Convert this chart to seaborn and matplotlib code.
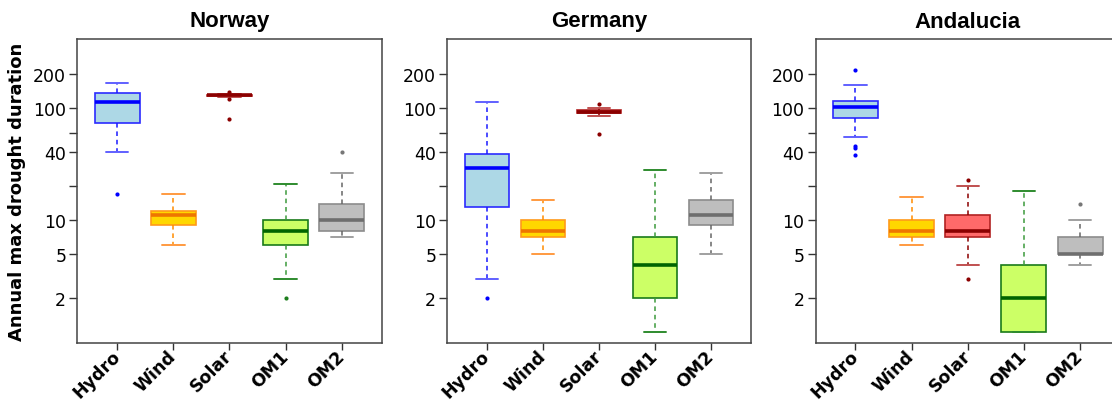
import numpy as np
import pandas as pd
import matplotlib
matplotlib.use("Agg")
import matplotlib.pyplot as plt
from matplotlib.ticker import NullLocator, FixedLocator, FixedFormatter
import seaborn as sns

sns.set_style("white")
plt.rcParams.update({
    "text.color": "black",
    "axes.labelcolor": "black",
    "xtick.color": "black",
    "ytick.color": "black",
})

categories = ["Hydro", "Wind", "Solar", "OM1", "OM2"]
regions = ["Norway", "Germany", "Andalucia"]

# --- box statistics (days) ---
norway_lo = [40, 6, 124.3, 3, 7]
norway_q1 = [72.6, 9, 127, 6, 8]
norway_med = [113, 11, 128.9, 8, 10]
norway_q3 = [134, 12, 130, 10, 14]
norway_hi = [166, 16.9, 133.5, 21, 26]
norway_fliers = [[17], [], [79, 118.8, 138], [2], [40]]

germany_lo = [3, 5, 84.6, 1, 5]
germany_q1 = [13, 7, 89, 2, 9]
germany_med = [29, 8, 92.5, 4, 11]
germany_q3 = [38.8, 10, 96, 7, 15]
germany_hi = [112, 15, 100, 28, 26]
germany_fliers = [[2], [], [58.9, 109], [], []]

andalucia_lo = [55, 6, 4, 1, 4]
andalucia_q1 = [81, 7, 7, 1, 5]
andalucia_med = [101.6, 8, 8, 2, 5]
andalucia_q3 = [115, 10, 11, 4, 7]
andalucia_hi = [158, 16, 20, 18, 10]
andalucia_fliers = [[37.7, 44, 45.7, 217], [], [3, 22.5], [], [14]]

fills = ["#ADD8E6", "#FFD700", "#FF6A6A", "#CCFF66", "#BEBEBE"]
edges = ["#2B2BFF", "#FF9A1A", "#B22222", "#1A7A1A", "#8C8C8C"]
medcols = ["#0000FF", "#EE7600", "#8B0000", "#006400", "#6E6E6E"]
whiskcols = ["#1A1AFF", "#FF8C00", "#8B0000", "#3C9A3C", "#666666"]
capcols = ["#6060FF", "#FF9A40", "#C05050", "#2E8B2E", "#A0A0A0"]
fliercols = ["#0000FF", "#FF8C00", "#8B0000", "#1E7E1E", "#777777"]

stats = {
    "Norway": (norway_lo, norway_q1, norway_med, norway_q3, norway_hi, norway_fliers),
    "Germany": (germany_lo, germany_q1, germany_med, germany_q3, germany_hi, germany_fliers),
    "Andalucia": (andalucia_lo, andalucia_q1, andalucia_med, andalucia_q3, andalucia_hi, andalucia_fliers),
}

# expand the summary statistics into samples that reproduce them exactly
rows = []
for reg in regions:
    lo, q1, med, q3, hi, fl = stats[reg]
    for i, cat in enumerate(categories):
        vals = list(fl[i]) + [lo[i]] + [q1[i]] * 20 + [med[i]] * 20 + [q3[i]] * 20 + [hi[i]]
        for v in vals:
            rows.append((reg, cat, v))
df = pd.DataFrame(rows, columns=["region", "source", "duration"])

fig = plt.figure(figsize=(11.12, 4.10), dpi=100)
W, H = 1112.0, 410.0
lefts = [77.3, 447.3, 815.5]
widths = [304.4, 303.4, 304.5]
top_px, bot_px = 40.0, 344.0

for k, reg in enumerate(regions):
    ax = fig.add_axes([lefts[k] / W, 1 - bot_px / H, widths[k] / W, (bot_px - top_px) / H])
    sub_r = df[df["region"] == reg]
    for i, cat in enumerate(categories):
        sub = sub_r[sub_r["source"] == cat]
        sns.boxplot(
            data=sub, x="source", y="duration", order=categories, ax=ax,
            color=fills[i], linecolor=edges[i], saturation=1, width=0.8,
            log_scale=True, linewidth=1.2,
            whiskerprops={"linestyle": (0, (3, 2.5)), "color": whiskcols[i], "linewidth": 1.1},
            capprops={"color": capcols[i], "linewidth": 1.4},
            medianprops={"color": medcols[i], "linewidth": 2.6},
            boxprops={"edgecolor": edges[i], "linewidth": 1.2},
            flierprops={"marker": "o", "markersize": 3, "markerfacecolor": fliercols[i],
                        "markeredgecolor": "none"},
        )
    ax.set_yscale("log")
    ax.set_ylim(0.8, 410)
    ax.set_xlim(-0.71, 4.71)
    yt = [2, 5, 10, 20, 40, 60, 100, 200]
    ytl = ["2", "5", "10", "", "40", "", "100", "200"]
    ax.yaxis.set_major_locator(FixedLocator(yt))
    ax.yaxis.set_major_formatter(FixedFormatter(ytl))
    ax.yaxis.set_minor_locator(NullLocator())
    ax.tick_params(axis="y", which="major", length=6, width=1, color="#333333",
                   labelsize=12.5, pad=2, left=True, labelcolor="black")
    ax.tick_params(axis="x", which="major", length=5, width=1, color="#333333",
                   pad=2, bottom=True, labelcolor="black")
    ax.set_xticks(range(len(categories)))
    ax.set_xticklabels(categories, rotation=45, ha="right", va="center",
                       rotation_mode="anchor", fontsize=12.5, fontweight="bold",
                       color="black")
    ax.set_xlabel("")
    ax.set_ylabel("")
    for sp in ax.spines.values():
        sp.set_visible(True)
        sp.set_color("#444444")
        sp.set_linewidth(1.1)
    ax.set_title(reg, fontsize=16, fontweight="bold", color="black",
                 family=["Liberation Sans", "DejaVu Sans"], pad=9)

fig.text(17 / W, 1 - 191.5 / H, "Annual max drought duration", rotation=90,
         ha="center", va="center", fontsize=13, fontweight="bold", color="black")

fig.savefig("out.png", dpi=100)
